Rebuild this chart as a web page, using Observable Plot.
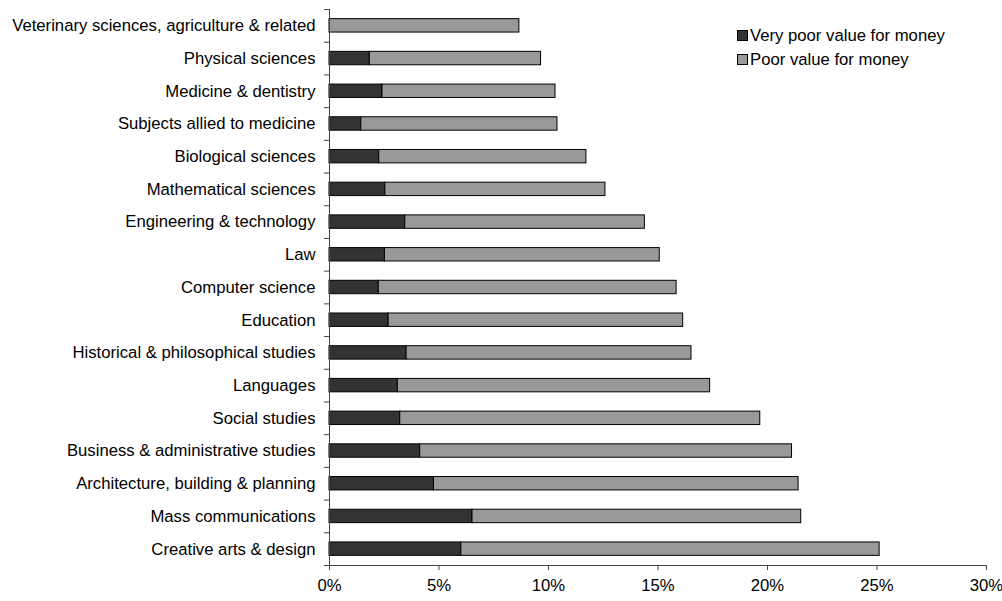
<!DOCTYPE html>
<html>
<head>
<meta charset="utf-8">
<script src="https://cdn.jsdelivr.net/npm/d3@7"></script>
<script src="https://cdn.jsdelivr.net/npm/@observablehq/plot@0.6"></script>
<style>
  body { margin: 0; background: #fff; font-family: "Liberation Sans", Arial, sans-serif; }
  #wrap { position: relative; width: 1002px; height: 601px; }
  #legend { position: absolute; left: 737px; top: 24px; font-size: 16.7px; color: #000; line-height: 24px; }
  #legend .sw { display: inline-block; width: 9px; height: 9px; border: 1px solid #000; margin-right: 2px; vertical-align: 0px; }
</style>
</head>
<body>
<div id="wrap"><div id="legend"></div></div>
<script>
const categories = [
  "Veterinary sciences, agriculture & related",
  "Physical sciences",
  "Medicine & dentistry",
  "Subjects allied to medicine",
  "Biological sciences",
  "Mathematical sciences",
  "Engineering & technology",
  "Law",
  "Computer science",
  "Education",
  "Historical & philosophical studies",
  "Languages",
  "Social studies",
  "Business & administrative studies",
  "Architecture, building & planning",
  "Mass communications",
  "Creative arts & design"
];
const veryPoor = [0.0, 1.84, 2.42, 1.45, 2.27, 2.55, 3.46, 2.53, 2.25, 2.70, 3.52, 3.12, 3.23, 4.14, 4.77, 6.53, 6.02];
const total    = [8.67, 9.66, 10.32, 10.41, 11.73, 12.60, 14.40, 15.08, 15.85, 16.15, 16.53, 17.38, 19.67, 21.12, 21.42, 21.54, 25.12];
const seriesNames = ["Very poor value for money", "Poor value for money"];
const seriesColors = ["#333333", "#999999"];
const xTicks = [0, 5, 10, 15, 20, 25, 30];

const rows = [];
categories.forEach((c, i) => {
  rows.push({category: c, series: seriesNames[0], value: veryPoor[i]});
  rows.push({category: c, series: seriesNames[1], value: +(total[i] - veryPoor[i]).toFixed(2)});
});

const W = 1002, H = 601, mTop = 9, mBottom = 36, mLeft = 329, mRight = 16;
const step = (H - mTop - mBottom) / categories.length;
const FS = 16.7;

const chart = Plot.plot({
  width: W,
  height: H,
  marginTop: mTop,
  marginBottom: mBottom,
  marginLeft: mLeft,
  marginRight: mRight,
  style: {fontFamily: "'Liberation Sans', Arial, sans-serif", fontSize: FS + "px", color: "#000", background: "#fff"},
  x: {domain: [0, 30], label: null},
  y: {domain: categories, paddingInner: 0.59, paddingOuter: 0.295, round: false, label: null},
  color: {domain: seriesNames, range: seriesColors},
  marks: [
    Plot.barX(rows, Plot.stackX({
      x: "value", y: "category", fill: "series", order: seriesNames,
      stroke: "#000", strokeWidth: 1
    })),
    Plot.axisY({tickSize: 0, tickPadding: 14, fontSize: FS, fill: "#000"}),
    Plot.axisX({ticks: xTicks, tickFormat: d => d + "%", tickSize: 5, tickPadding: 9, fontSize: FS, fill: "#000", stroke: "#444"}),
    Plot.frame({anchor: "left", stroke: "#444"}),
    Plot.frame({anchor: "bottom", stroke: "#444"}),
    Plot.ruleY(categories, {y: d => d, x1: 0, x2: 0, insetLeft: -5, dy: -step / 2, stroke: "#444"}),
    Plot.ruleY(categories.slice(-1), {y: d => d, x1: 0, x2: 0, insetLeft: -5, dy: step / 2, stroke: "#444"})
  ]
});
document.getElementById("wrap").prepend(chart);

const legend = document.getElementById("legend");
seriesNames.forEach((n, i) => {
  const row = document.createElement("div");
  row.innerHTML = `<span class="sw" style="background:${seriesColors[i]}"></span>${n}`;
  legend.appendChild(row);
});
</script>
</body>
</html>
